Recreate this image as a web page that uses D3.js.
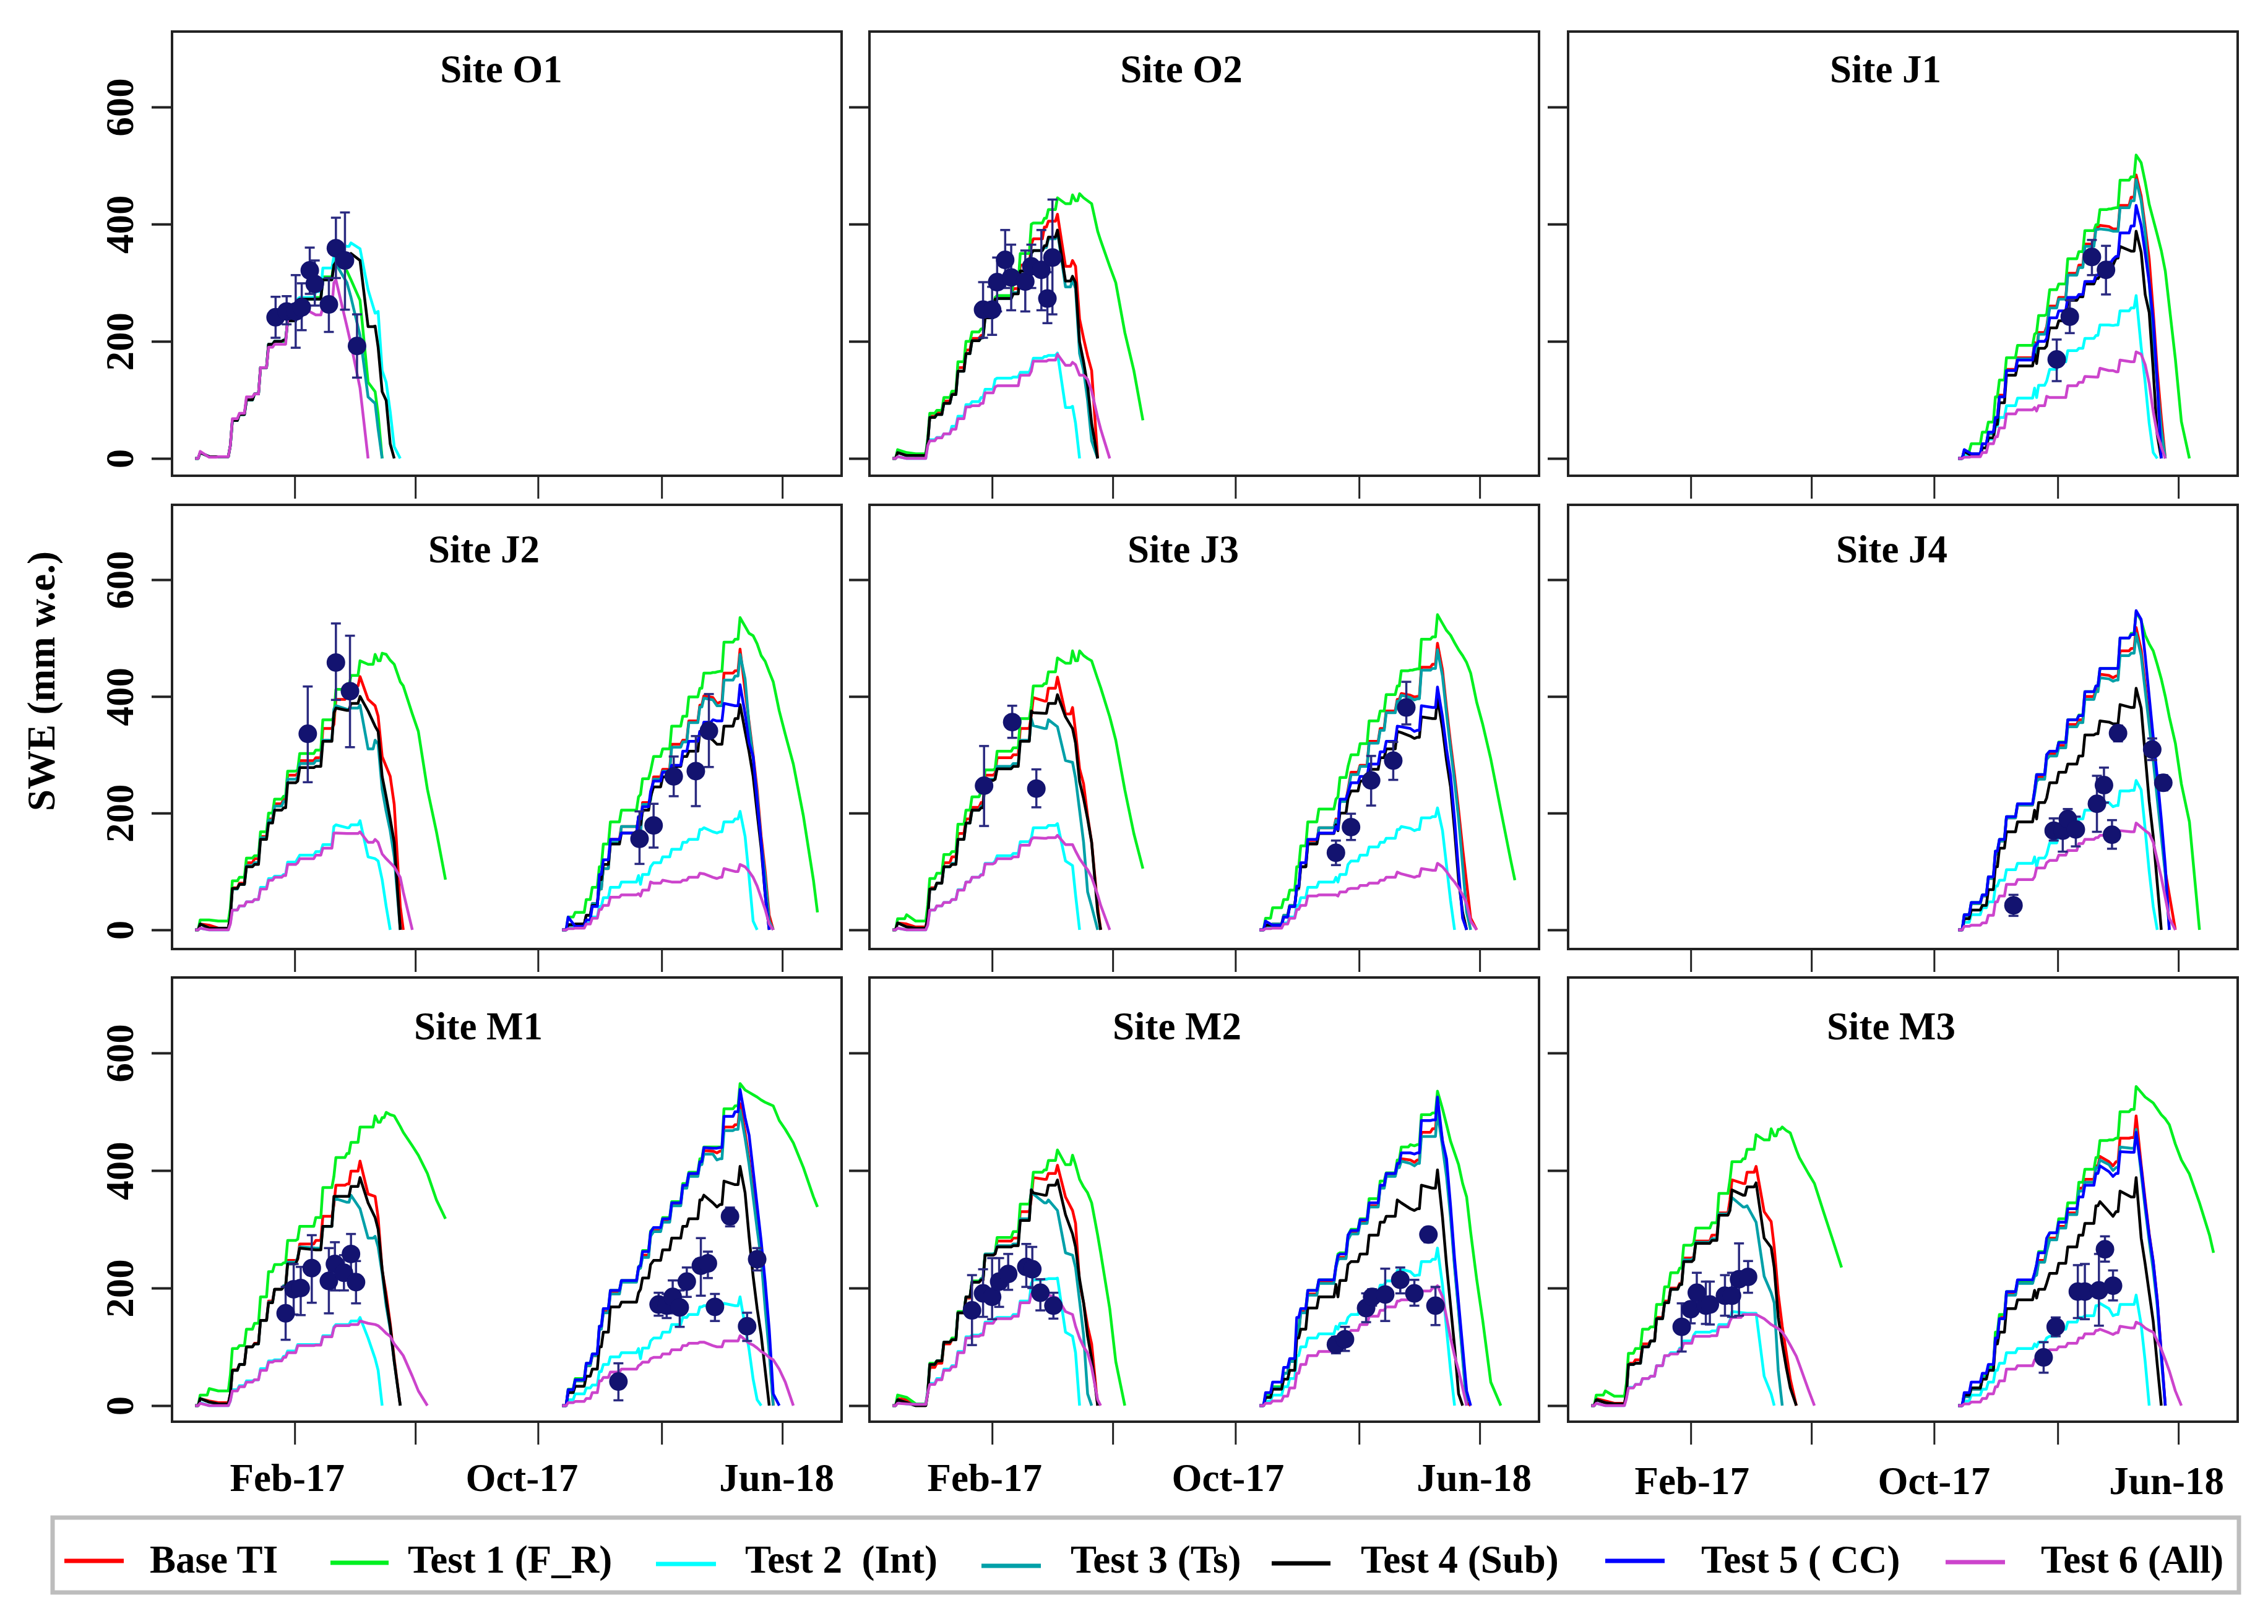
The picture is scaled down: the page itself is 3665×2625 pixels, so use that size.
<!DOCTYPE html>
<html>
<head>
<meta charset="utf-8">
<script src="https://cdn.jsdelivr.net/npm/d3@7/dist/d3.min.js"></script>
<style>
  *{margin:0;padding:0;box-sizing:border-box}
  body{background:#fff;width:3665px;height:2625px;overflow:hidden}
  svg{display:block}
  text{font-family:"Liberation Serif",serif;font-weight:700;font-size:63px;fill:#000;white-space:pre}
</style>
</head>
<body>
<svg id="g" width="3665" height="2625"></svg>
<script>
const SITES = ['O1','O2','J1','J2','J3','J4','M1','M2','M3'];
const TESTS = ['Base TI','Test 1 (F_R)','Test 2  (Int)','Test 3 (Ts)','Test 4 (Sub)','Test 5 ( CC)','Test 6 (All)'];
const COLORS = ['#ff0000','#00f020','#00ffff','#00a0a8','#000000','#0000ff','#cc44cc'];
const X_TICKS = ['2017-02-01','2017-06-01','2017-10-01','2018-02-01','2018-06-01'];
const X_LABELS = ['Feb-17','Oct-17','Jun-18'];
const Y_TICKS = [0,200,400,600];

// days since 25 Oct of each winter, the simulated lines share these
const S1_DAYS = [0,5,14,23,35,37,44,51,59,65,73,79,88,92,102,104,120,127,138,140,151,155,164,172,179,182,186,190,194,198,204,207,216,222,231,240,249];
const S2_DAYS = [0,6,13,24,30,37,41,48,59,76,78,80,88,91,100,109,120,126,137,141,150,154,157,161,172,177,182,186,190,194,198,202,206,210,216,222,230,240,250,254];

// Site O1
const O1_17_t1 = [0,10,3,3,22,65,75,100,110,155,195,200,200,235,270,272,275,310,335,340,320,305,270,130,114,75,0];
const O1_17_t2 = [0,10,3,3,22,65,75,100,110,155,195,200,202,235,272,275,285,325,345,370,362,368,358,288,248,251,150,130,80,20,0];
const O1_17_t3 = [0,10,3,3,22,65,75,100,110,155,195,200,202,235,270,272,272,305,330,332,300,275,210,105,94,50,0];
const O1_17_t4 = [0,10,3,3,22,65,75,100,110,155,195,200,202,235,270,272,272,305,330,335,345,350,338,225,226,190,114,99,25,0];
const O1_17_t6 = [0,12,2,3,22,68,77,105,110,155,190,195,195,240,258,260,245,258,300,305,225,195,120,0];
const O1_day = [80,91,100,106,114,119,133,140,149,161];
const O1_swe = [241,251,251,258,321,298,263,359,338,192];
const O1_hi = [276,277,313,299,360,338,308,411,420,246];
const O1_lo = [206,229,189,219,281,261,216,308,254,138];

// Site O2
const O2_17_base = [0,12,8,5,28,72,78,98,112,155,185,205,210,245,272,276,290,330,365,375,395,405,417,328,338,328,238,205,175,150,0];
const O2_17_t1 = [0,15,10,8,35,77,82,104,115,165,200,216,221,245,275,278,300,350,400,402,410,425,445,435,450,440,452,445,440,435,388,372,328,300,215,150,65];
const O2_17_t2 = [0,3,0,0,25,32,36,42,55,72,92,97,104,118,135,137,139,147,157,171,174,176,180,87,89,60,0];
const O2_17_t3 = [0,10,5,5,28,70,75,94,109,149,179,201,206,240,272,273,283,320,350,355,360,375,388,293,305,290,179,150,99,30,0];
const O2_17_t4 = [0,10,5,5,28,70,75,94,109,149,179,201,206,240,272,273,281,320,350,355,363,378,390,303,311,300,199,165,124,60,0];
const O2_17_t6 = [0,3,0,0,22,30,35,42,50,68,88,90,94,112,122,124,124,142,149,166,166,168,178,159,164,160,142,142,135,115,70,50,0];
const O2_day = [90,99,104,112,118,132,138,148,154,159];
const O2_swe = [254,254,301,339,309,302,328,322,273,343];
const O2_hi = [301,293,343,390,365,355,365,390,318,442];
const O2_lo = [206,211,251,291,253,251,291,253,231,246];

// Site J1
const J1_18_base = [0,12,8,25,42,68,108,152,172,198,185,215,225,260,275,316,330,366,395,398,396,392,392,432,446,484,448,395,340,250,150,70,0];
const J1_18_t1 = [0,12,25,45,62,105,134,172,193,212,215,244,246,288,298,341,353,389,399,425,426,427,428,475,481,518,505,472,434,408,382,355,320,260,170,63,0];
const J1_18_t2 = [0,5,5,18,33,55,70,90,103,120,104,125,132,152,165,184,188,205,210,228,228,227,228,252,257,278,190,130,60,10,0];
const J1_18_t3 = [0,12,8,25,42,68,105,150,170,195,178,212,222,257,272,313,326,362,391,392,390,388,388,428,440,476,440,385,300,200,128,50,0];
const J1_18_t4 = [0,12,5,18,35,58,95,142,158,178,162,188,192,223,235,270,276,298,307,312,325,330,342,362,354,388,352,280,249,150,40,0];
const J1_18_t5 = [0,15,8,25,45,70,105,150,168,190,195,200,205,240,252,275,280,302,313,320,335,340,345,385,397,432,398,350,300,235,130,0];
const J1_18_t6 = [0,2,3,10,25,37,52,76,83,87,81,90,106,104,104,124,130,140,139,154,150,150,148,168,165,182,178,160,128,80,42,20,0];
const J1_day = [463,476,498,512];
const J1_swe = [169,242,344,322];
const J1_hi = [203,270,373,363];
const J1_lo = [132,214,313,280];

// Site J2
const J2_17_base = [0,10,8,3,25,72,80,115,122,160,190,216,224,265,268,290,295,345,352,395,400,418,434,395,384,366,297,280,263,215,40,0];
const J2_17_t1 = [0,17,17,15,37,84,90,123,127,168,200,224,229,272,274,302,308,360,364,412,416,436,461,455,472,461,474,472,462,455,425,418,370,340,241,168,86];
const J2_17_t2 = [0,3,0,0,12,34,41,48,52,73,88,92,95,116,122,128,134,146,177,180,175,180,187,125,122,118,86,40,0];
const J2_17_t3 = [0,10,3,3,22,70,78,110,115,158,188,212,220,258,262,285,290,325,378,384,378,380,385,310,325,318,241,203,170,125,0];
const J2_17_t4 = [0,10,3,3,22,71,78,108,112,155,183,205,209,252,255,278,280,323,372,380,376,388,400,375,349,340,263,228,190,150,0];
const J2_17_t6 = [0,3,0,0,10,34,41,48,52,70,85,90,93,112,115,122,128,140,166,166,165,165,168,150,155,150,130,122,115,108,90,65,0];
const J2_18_base = [0,8,8,25,45,70,105,155,177,185,165,218,225,262,275,318,325,358,385,401,398,388,390,440,444,481,410,355,300,240,160,100,25,0];
const J2_18_t1 = [0,22,30,52,73,108,147,185,205,228,232,259,272,297,310,349,366,399,414,440,441,442,443,493,498,535,520,508,504,490,470,460,442,425,375,335,284,195,85,30];
const J2_18_t2 = [0,3,5,12,22,40,55,73,82,93,78,95,108,115,125,138,150,155,172,175,168,166,168,185,190,203,160,90,15,0];
const J2_18_t3 = [0,8,8,25,45,70,105,150,177,181,162,215,222,258,272,313,322,355,382,397,394,384,384,428,435,472,430,350,295,230,150,90,15,0];
const J2_18_t4 = [0,9,10,25,42,86,112,147,166,194,180,205,228,245,262,280,297,306,340,336,325,318,318,349,362,386,340,305,263,200,140,60,0];
const J2_18_t5 = [0,22,6,17,40,95,120,155,166,194,190,211,237,255,270,282,306,323,340,356,360,358,358,388,384,420,370,320,297,220,150,60,0];
const J2_18_t6 = [0,2,3,10,20,35,42,56,60,62,58,68,82,80,85,82,85,90,97,96,90,88,90,105,100,112,108,100,90,75,55,35,10,0];
const J2_day = [112,140,154,442,456,476,498,511];
const J2_swe = [336,458,409,156,179,263,272,341];
const J2_hi = [417,525,504,203,216,297,332,404];
const J2_lo = [253,394,313,113,141,229,212,279];

// Site J3
const J3_17_base = [0,12,10,5,25,72,80,115,125,165,190,210,218,265,268,295,300,345,368,398,392,414,433,370,381,340,276,250,195,150,40,0];
const J3_17_t1 = [0,19,26,15,43,88,97,129,134,181,205,228,237,274,276,306,312,362,384,418,422,442,466,457,478,461,478,470,465,461,430,415,365,325,240,165,105];
const J3_17_t2 = [0,3,0,0,10,34,41,47,52,69,82,90,95,114,118,127,131,151,157,175,175,179,182,118,110,60,0];
const J3_17_t3 = [0,12,5,3,22,70,80,108,114,155,183,205,212,258,260,280,285,325,362,350,345,360,348,290,287,260,205,150,65,40,0];
const J3_17_t4 = [0,12,5,3,22,70,80,108,112,155,183,205,209,256,258,276,280,323,375,372,371,388,403,365,345,320,254,225,190,150,30,0];
const J3_17_t6 = [0,3,0,0,8,34,41,47,52,68,82,90,94,113,115,122,125,145,155,158,157,158,162,146,146,135,122,112,103,90,60,42,0];
const J3_18_base = [0,8,10,25,42,70,108,150,175,190,180,222,240,270,282,323,345,375,395,405,402,399,400,450,455,491,445,380,320,265,205,140,80,20,0];
const J3_18_t1 = [0,20,38,52,68,108,144,185,207,224,228,261,280,300,319,358,375,403,418,444,445,446,447,498,502,540,525,513,505,492,480,470,458,440,390,352,293,205,118,85];
const J3_18_t2 = [0,3,5,12,22,42,55,73,82,90,82,95,112,118,128,142,150,157,172,177,174,170,172,192,194,209,170,110,50,0];
const J3_18_t3 = [0,8,10,25,42,70,108,148,175,188,178,220,236,266,280,320,342,372,392,402,398,394,396,445,448,480,435,370,310,255,190,110,30,0];
const J3_18_t4 = [0,8,8,22,40,72,108,147,165,180,170,200,225,238,255,275,295,310,340,338,332,328,330,365,362,397,345,290,245,170,85,30,0];
const J3_18_t5 = [0,15,8,22,40,75,115,155,166,177,172,224,235,252,263,284,305,323,349,348,345,340,342,384,381,416,365,310,265,190,100,20,0];
const J3_18_t6 = [0,2,3,10,20,35,42,58,60,60,58,65,70,71,76,80,85,90,99,96,92,90,92,105,102,114,108,100,90,82,72,60,45,15,0];
const J3_day = [91,119,143,441,456,476,498,511];
const J3_swe = [247,356,242,132,176,256,290,381];
const J3_hi = [315,384,275,153,199,298,322,425];
const J3_lo = [178,329,210,111,154,213,257,352];

// Site J4
const J4_18_base = [0,24,45,58,88,130,152,192,214,236,258,262,296,302,316,352,360,400,412,438,436,432,435,478,482,518,480,420,360,300,235,170,100,60,0];
const J4_18_t1 = [0,26,47,60,91,135,155,194,216,239,266,266,300,306,322,360,368,408,418,448,448,448,448,500,508,545,530,505,490,478,455,430,400,365,320,250,185,0];
const J4_18_t2 = [0,13,26,38,48,75,85,103,114,125,108,123,129,149,165,178,190,205,215,218,218,211,213,238,239,256,240,172,100,40,0];
const J4_18_t3 = [0,24,45,58,88,130,152,192,214,232,254,258,292,298,312,348,355,395,408,432,430,426,428,470,474,508,470,410,350,290,225,160,95,0];
const J4_18_t4 = [0,19,34,42,69,108,140,168,185,205,190,218,226,252,270,284,298,334,336,358,356,353,353,386,381,414,380,300,220,160,80,0];
const J4_18_t5 = [0,26,47,60,91,135,155,194,216,239,266,266,300,306,321,360,367,408,418,448,448,448,448,500,506,547,532,470,400,330,262,190,110,0];
const J4_18_t6 = [0,6,8,12,25,48,58,78,86,91,106,106,115,119,128,136,148,155,158,162,175,172,170,170,168,183,176,170,165,150,120,90,55,20,0];
const J4_day = [420,460,469,474,482,503,510,518,524,558,569];
const J4_swe = [42,170,170,190,172,216,248,163,337,309,252];
const J4_hi = [60,191,181,207,194,264,278,188,350,328,265];
const J4_lo = [24,153,134,168,143,168,218,139,323,291,239];

// Site M1
const M1_17_base = [0,12,8,5,20,61,70,100,106,145,178,198,204,247,249,275,281,322,341,375,377,399,416,360,356,320,230,190,140,80,0];
const M1_17_t1 = [0,18,29,25,52,97,102,130,140,185,228,240,243,281,283,305,320,371,390,422,429,448,474,474,493,482,490,499,495,493,475,465,442,426,395,350,318];
const M1_17_t2 = [0,5,0,0,8,27,34,42,44,63,76,78,84,93,104,104,104,119,134,138,138,144,150,115,80,60,0];
const M1_17_t3 = [0,12,6,3,20,60,70,100,105,145,176,198,204,244,252,270,268,305,350,352,346,358,335,285,288,270,225,170,130,75,0];
const M1_17_t4 = [0,12,6,3,20,60,70,100,105,145,175,198,202,241,250,268,265,305,356,356,356,373,388,345,320,300,232,180,135,75,0];
const M1_17_t6 = [0,4,0,0,8,25,32,40,44,60,74,76,82,90,102,102,103,117,132,136,136,138,144,140,138,136,130,123,118,105,92,85,50,25,0];
const M1_18_base = [0,25,42,68,85,132,160,192,212,234,236,256,290,298,315,342,372,392,412,434,433,430,433,474,478,514,465,418,364,310,260,175,100,0];
const M1_18_t1 = [0,28,46,72,88,135,165,196,213,236,240,264,297,303,320,347,378,397,420,440,440,440,440,505,510,548,537,533,529,525,520,516,513,510,485,470,447,405,355,338];
const M1_18_t2 = [0,10,20,30,35,58,70,83,90,97,80,98,110,115,125,138,150,155,168,170,170,168,168,174,170,185,135,95,45,10,0];
const M1_18_t3 = [0,25,42,68,85,130,158,190,210,232,234,252,288,296,312,340,370,390,410,428,428,418,420,468,470,503,455,410,355,300,250,165,90,0];
const M1_18_t4 = [0,22,33,50,62,100,125,168,176,192,198,217,240,247,265,285,305,318,350,358,345,338,342,382,376,407,362,287,220,165,120,60,0];
const M1_18_t5 = [0,27,44,72,88,135,165,196,213,236,238,262,295,303,318,345,375,395,415,439,438,438,439,492,500,538,490,460,400,340,280,210,130,20,0];
const M1_18_t6 = [0,5,7,12,22,42,48,57,62,68,70,74,80,82,88,95,102,106,108,108,102,100,100,110,110,119,112,106,103,98,92,88,82,78,62,40,0];
const M1_day = [90,98,105,116,133,139,148,155,160,421,461,469,475,482,489,503,510,517,532,549,559];
const M1_swe = [157,198,200,234,212,241,226,258,210,41,172,170,185,167,211,238,242,168,322,135,249];
const M1_hi = [202,241,236,290,268,278,256,292,246,72,192,190,213,196,235,285,262,190,337,158,268];
const M1_lo = [112,155,154,175,157,196,196,224,174,9,153,149,157,134,185,187,217,144,305,110,230];

// Site M2
const M2_17_base = [0,12,10,0,22,65,72,105,112,158,183,210,214,256,258,280,285,330,352,388,385,395,409,355,332,310,208,175,135,105,0];
const M2_17_t1 = [0,18,14,3,25,72,76,108,115,160,185,212,216,258,260,286,296,343,362,397,401,417,435,410,426,410,385,372,362,345,290,260,165,75,0];
const M2_17_t2 = [0,5,3,2,25,38,46,62,68,92,117,120,122,142,148,150,155,178,208,214,215,216,217,125,118,90,0];
const M2_17_t3 = [0,10,5,0,22,70,76,108,112,158,185,210,216,258,260,272,275,318,368,360,345,350,332,260,256,235,178,120,20,0];
const M2_17_t4 = [0,10,5,0,22,70,76,108,112,158,185,210,214,256,258,270,272,315,367,362,358,375,384,325,292,270,215,175,118,80,0];
const M2_17_t6 = [0,4,3,2,22,36,44,60,66,90,115,118,120,140,146,148,152,175,190,190,190,188,183,160,155,135,115,100,90,65,10,0];
const M2_18_base = [0,15,30,55,75,125,160,190,210,236,250,252,285,295,312,340,372,392,408,420,418,414,418,465,471,508,450,400,330,240,165,85,5,0];
const M2_18_t1 = [0,18,32,55,78,130,165,196,214,238,258,260,290,300,318,352,382,396,418,440,444,442,444,495,498,535,505,478,450,430,410,378,355,295,215,145,40,0];
const M2_18_t2 = [0,8,18,32,46,85,100,115,122,135,130,140,150,155,172,192,205,212,230,232,228,221,222,245,249,268,205,130,60,0];
const M2_18_t3 = [0,15,30,55,75,122,158,188,208,234,248,250,282,292,310,338,370,390,405,416,412,408,412,458,458,499,440,390,320,235,160,80,0];
const M2_18_t4 = [0,14,28,45,60,115,130,166,185,206,185,213,240,245,258,290,312,322,350,345,335,332,335,375,370,401,320,240,170,100,20,0];
const M2_18_t5 = [0,22,40,65,80,150,165,196,214,238,255,258,290,298,316,345,375,395,412,430,430,428,430,485,486,525,450,420,340,250,175,100,25,0];
const M2_18_t6 = [0,4,8,16,30,55,70,85,92,108,110,118,122,128,138,152,162,168,178,180,185,185,186,195,200,204,185,150,115,85,60,30,0];
const M2_day = [79,90,99,106,115,133,139,147,160,441,450,471,477,490,505,519,533,540];
const M2_swe = [162,191,185,211,224,236,232,192,170,104,113,166,185,189,214,191,291,170];
const M2_hi = [222,232,251,251,258,275,270,215,192,117,134,191,198,233,235,214,303,202];
const M2_lo = [103,151,147,168,197,202,200,162,148,89,93,142,170,144,191,170,278,137];

// Site M3
const M3_17_base = [0,12,8,4,22,72,78,105,110,150,178,200,208,251,253,280,290,328,350,384,378,397,407,330,313,270,190,135,90,45,0];
const M3_17_t1 = [0,18,25,16,38,89,97,130,134,172,202,226,234,273,277,302,311,361,384,415,420,436,461,452,471,459,470,474,468,464,435,422,395,378,330,283,235];
const M3_17_t2 = [0,4,0,0,15,31,36,46,50,68,85,90,98,110,120,125,127,138,145,160,158,157,157,50,20,0];
const M3_17_t3 = [0,10,5,3,20,70,72,100,110,148,175,198,206,248,252,278,284,326,335,354,338,340,312,220,192,175,60,0];
const M3_17_t4 = [0,10,5,3,20,70,72,100,110,148,175,198,206,245,248,276,281,324,332,367,358,372,379,285,269,235,150,105,65,30,0];
const M3_17_t6 = [0,4,0,0,12,30,36,46,50,68,85,88,96,106,118,118,119,134,144,150,155,155,155,148,138,135,131,125,115,103,84,70,27,0];
const M3_18_base = [0,15,28,48,62,115,150,190,210,222,225,247,265,285,305,328,370,385,408,424,415,408,415,455,456,493,410,350,292,245,180,90,0];
const M3_18_t1 = [0,18,30,50,65,125,155,194,212,224,240,262,280,294,318,345,380,402,422,451,452,452,455,500,504,543,533,525,520,515,505,495,488,478,445,418,394,345,290,260];
const M3_18_t2 = [0,8,18,28,40,60,72,90,97,105,100,108,115,118,130,142,150,153,170,174,165,153,155,172,172,188,138,75,0];
const M3_18_t3 = [0,15,28,48,62,112,148,188,208,220,222,244,262,282,302,325,365,380,405,418,410,400,405,440,438,470,395,335,280,230,170,80,0];
const M3_18_t4 = [0,18,30,45,60,105,125,165,180,196,183,198,208,225,242,270,290,310,340,347,330,322,330,365,355,388,285,241,192,143,70,0];
const M3_18_t5 = [0,22,40,55,70,115,148,194,214,226,240,260,285,294,312,335,355,375,395,408,398,390,395,432,431,465,405,345,290,245,180,90,0];
const M3_18_t6 = [0,3,6,12,20,32,42,62,68,78,80,85,92,95,100,106,115,122,128,130,124,121,124,135,132,142,138,132,128,125,110,96,78,59,25,0];
const M3_day = [90,99,105,114,118,133,140,147,156,450,462,484,491,505,511,519];
const M3_swe = [134,164,192,170,172,187,187,215,219,82,134,194,194,196,266,204];
const M3_hi = [174,176,226,211,211,222,226,276,246,108,150,239,241,258,288,230];
const M3_lo = [92,140,162,139,138,153,151,153,192,56,118,149,147,136,245,179];

// lines per site: [winter, base, t1..t6], null where a line is hidden under the others
const RUNS = {
  O1:[[1,null,O1_17_t1,O1_17_t2,O1_17_t3,O1_17_t4,null,O1_17_t6]],
  O2:[[1,O2_17_base,O2_17_t1,O2_17_t2,O2_17_t3,O2_17_t4,null,O2_17_t6]],
  J1:[[2,J1_18_base,J1_18_t1,J1_18_t2,J1_18_t3,J1_18_t4,J1_18_t5,J1_18_t6]],
  J2:[[1,J2_17_base,J2_17_t1,J2_17_t2,J2_17_t3,J2_17_t4,null,J2_17_t6],[2,J2_18_base,J2_18_t1,J2_18_t2,J2_18_t3,J2_18_t4,J2_18_t5,J2_18_t6]],
  J3:[[1,J3_17_base,J3_17_t1,J3_17_t2,J3_17_t3,J3_17_t4,null,J3_17_t6],[2,J3_18_base,J3_18_t1,J3_18_t2,J3_18_t3,J3_18_t4,J3_18_t5,J3_18_t6]],
  J4:[[2,J4_18_base,J4_18_t1,J4_18_t2,J4_18_t3,J4_18_t4,J4_18_t5,J4_18_t6]],
  M1:[[1,M1_17_base,M1_17_t1,M1_17_t2,M1_17_t3,M1_17_t4,null,M1_17_t6],[2,M1_18_base,M1_18_t1,M1_18_t2,M1_18_t3,M1_18_t4,M1_18_t5,M1_18_t6]],
  M2:[[1,M2_17_base,M2_17_t1,M2_17_t2,M2_17_t3,M2_17_t4,null,M2_17_t6],[2,M2_18_base,M2_18_t1,M2_18_t2,M2_18_t3,M2_18_t4,M2_18_t5,M2_18_t6]],
  M3:[[1,M3_17_base,M3_17_t1,M3_17_t2,M3_17_t3,M3_17_t4,null,M3_17_t6],[2,M3_18_base,M3_18_t1,M3_18_t2,M3_18_t3,M3_18_t4,M3_18_t5,M3_18_t6]]
};
const OBS = {
  O1:[O1_day,O1_swe,O1_hi,O1_lo], O2:[O2_day,O2_swe,O2_hi,O2_lo], J1:[J1_day,J1_swe,J1_hi,J1_lo],
  J2:[J2_day,J2_swe,J2_hi,J2_lo], J3:[J3_day,J3_swe,J3_hi,J3_lo], J4:[J4_day,J4_swe,J4_hi,J4_lo],
  M1:[M1_day,M1_swe,M1_hi,M1_lo], M2:[M2_day,M2_swe,M2_hi,M2_lo], M3:[M3_day,M3_swe,M3_hi,M3_lo]
};

// layout
const COL_X = [278,1405,2534], ROW_Y = [51,816,1580];
const PW = 1082, PH = 718;
const Y0_PX = [690,687,692], Y600_PX = [122,121,122];
const TITLE_CX = [[810,1909,3047],[782,1912,3057],[773,1902,3056]];
const TITLE_BASE = [133,909,1680];
const LABEL_DX = [[-12,-26,-9],[-12,-12,-9],[2,0,-19]];
const LEG_LINE = [[104,200,2523],[534,628,2526],[1060,1157,2528],[1586,1682,2531],[2055,2150,2527],[2594,2690,2523],[3144,3240,2525]];
const LEG_TEXT = [242,659,1204,1730,2199,2749,3298];

const ORIGIN = new Date(Date.UTC(2016,9,25));
const dayToDate = d => d3.utcDay.offset(ORIGIN,d);

const x = d3.scaleUtc().domain([new Date(Date.UTC(2016,9,2)),new Date(Date.UTC(2018,6,30))]).range([0,PW]);

// snow falls in events: hold the level on rising stretches and jump near the end
function stairs(days,vals){
  const pts = [];
  vals.forEach((v,k)=>{
    if(k>0 && v>vals[k-1] && days[k]-days[k-1]>=4) pts.push([days[k]-1.5,vals[k-1]]);
    pts.push([days[k],v]);
  });
  return pts;
}

const svg = d3.select('#g');
const xTickDates = X_TICKS.map(s=>new Date(s+'T00:00:00Z'));

SITES.forEach((site,i)=>{
  const col = i%3, row = Math.floor(i/3);
  const y = d3.scaleLinear().domain([0,600]).range([Y0_PX[row],Y600_PX[row]]);
  const line = d3.line().x(d=>x(dayToDate(d[0]))).y(d=>y(d[1]));
  const g = svg.append('g').attr('transform',`translate(${COL_X[col]},${ROW_Y[row]})`);

  RUNS[site].forEach(run=>{
    const days = (run[0]===1 ? S1_DAYS : S2_DAYS).map(d=>d+(run[0]===1?0:365));
    run.slice(1).forEach((vals,t)=>{
      if(!vals) return;
      g.append('path')
        .datum(stairs(days,vals))
        .attr('d',line).attr('fill','none')
        .attr('stroke',COLORS[t]).attr('stroke-width',4.5).attr('stroke-linejoin','round');
    });
  });

  // observations with error bars
  const [day,swe,hi,lo] = OBS[site];
  const bars = g.append('g').attr('stroke','#2a2a80').attr('stroke-width',3.5);
  day.forEach((d,k)=>{
    const px = x(dayToDate(d));
    bars.append('line').attr('x1',px).attr('x2',px).attr('y1',y(hi[k])).attr('y2',y(lo[k]));
    bars.append('line').attr('x1',px-8).attr('x2',px+8).attr('y1',y(hi[k])).attr('y2',y(hi[k]));
    bars.append('line').attr('x1',px-8).attr('x2',px+8).attr('y1',y(lo[k])).attr('y2',y(lo[k]));
  });
  day.forEach((d,k)=>{
    g.append('circle').attr('cx',x(dayToDate(d))).attr('cy',y(swe[k])).attr('r',15).attr('fill','#131370');
  });

  // frame and axes
  g.append('rect').attr('width',PW).attr('height',PH).attr('fill','none').attr('stroke','#222').attr('stroke-width',4);

  const ax = g.append('g').attr('transform',`translate(0,${PH})`)
    .call(d3.axisBottom(x).tickValues(xTickDates).tickSize(37).tickFormat(''));
  ax.select('.domain').remove();
  ax.selectAll('line').attr('stroke','#222').attr('stroke-width',3);

  const ay = g.append('g')
    .call(d3.axisLeft(y).tickValues(Y_TICKS).tickSize(33).tickFormat(col===0?d3.format('d'):''));
  ay.select('.domain').remove();
  ay.selectAll('line').attr('stroke','#222').attr('stroke-width',4);
  ay.selectAll('text')
    .attr('x',null).attr('dy',null).attr('text-anchor','middle')
    .attr('transform','translate(-63,0) rotate(-90)')
    .style('font-size','63px').style('font-family','"Liberation Serif",serif');

  svg.append('text').attr('x',TITLE_CX[row][col]).attr('y',TITLE_BASE[row])
    .attr('text-anchor','middle').text('Site '+site);

  if(row===2){
    X_LABELS.forEach((lab,k)=>{
      svg.append('text')
        .attr('x',COL_X[col]+x(xTickDates[k*2])+LABEL_DX[col][k])
        .attr('y',col===2?2415:2410)
        .attr('text-anchor','middle').text(lab);
    });
  }
});

svg.append('text').attr('transform','translate(88,1101) rotate(-90)')
  .attr('text-anchor','middle').text('SWE (mm w.e.)');

// legend
svg.append('rect').attr('x',85).attr('y',2453).attr('width',3533).attr('height',121)
  .attr('fill','none').attr('stroke','#bdbdbd').attr('stroke-width',7);
TESTS.forEach((name,t)=>{
  const [x1,x2,ly] = LEG_LINE[t];
  svg.append('line').attr('x1',x1).attr('x2',x2).attr('y1',ly).attr('y2',ly)
    .attr('stroke',COLORS[t]).attr('stroke-width',7);
  svg.append('text').attr('x',LEG_TEXT[t]).attr('y',2542).text(name);
});
</script>
</body>
</html>
